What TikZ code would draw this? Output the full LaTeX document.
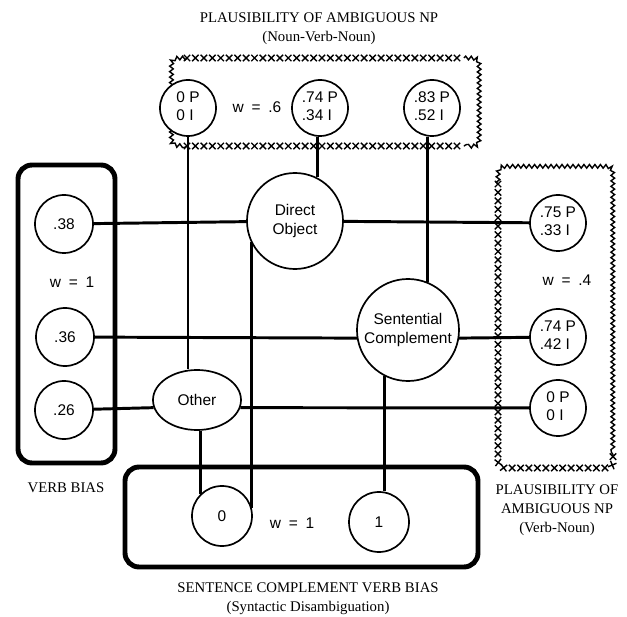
\documentclass[tikz,border=0pt]{standalone}
\usepackage{fontspec}
\setmainfont{Liberation Serif}
\setsansfont{Liberation Sans}
\usetikzlibrary{shapes.geometric,decorations.pathmorphing,decorations.markings}
\tikzset{
    unit/.style={circle,draw,fill=white,line width=1.2pt,inner sep=0pt,
        minimum size=#1,font=\sffamily\fontsize{11}{13}\selectfont},
    unit/.default=1.4cm,
    link/.style={line width=2.1pt},
    heavybox/.style={line width=3.5pt,rounded corners=10pt},
    xrow/.style={decorate,decoration={markings,
        mark=between positions 0 and 1 step 6pt with
        {\draw[line width=1pt] (-2.3pt,-2.3pt) -- (2.3pt,2.3pt) (-2.3pt,2.3pt) -- (2.3pt,-2.3pt);}}},
    wavy/.style={line width=1pt,decorate,
        decoration={snake,amplitude=1.3pt,segment length=3.9pt}},
    wlabel/.style={font=\sffamily\fontsize{11}{13}\selectfont},
    caption/.style={align=center,font=\fontsize{10.5}{13.5}\selectfont}
}
\newcommand\plaus[2]{\begin{tabular}{@{}r@{\ }l@{}}#1&P\\#2&I\end{tabular}}

\begin{document}
\begin{tikzpicture}[x=0.025cm,y=-0.025cm]
    \useasboundingbox (0,0) rectangle (627,617);
    % group borders
    \draw[heavybox] (18,165) rectangle (115,463);
    \draw[heavybox] (125,467) rectangle (478,567);
    \draw[xrow] (187,58) -- (464,58);
    \draw[xrow] (187,146) -- (464,146);
    \draw[wavy] (187,58) .. controls (173,58) .. (173,72) -- (173,132)
        .. controls (173,146) .. (187,146);
    \draw[wavy] (464,58) .. controls (478,58) .. (478,72) -- (478,132)
        .. controls (478,146) .. (464,146);
    \draw[wavy] (498,184) -- (498,182) .. controls (498,168) .. (512,168) -- (599,168)
        .. controls (613,168) .. (613,182) -- (613,456);
    \draw[xrow] (498,184) -- (498,454) .. controls (498,468) .. (512,468) -- (599,468)
        .. controls (613,468) .. (613,456);

    % units
    \node[unit] (npA) at (188,108) {\plaus{0}{0}};
    \node[unit] (npB) at (320,108) {\plaus{.74}{.34}};
    \node[unit] (npC) at (432,108) {\plaus{.83}{.52}};
    \node[unit=1.45cm] (vb38) at (64,224) {.38};
    \node[unit=1.45cm] (vb36) at (65,337) {.36};
    \node[unit=1.45cm] (vb26) at (64,410) {.26};
    \node[unit] (vn75) at (558,223) {\plaus{.75}{.33}};
    \node[unit] (vn74) at (558,337) {\plaus{.74}{.42}};
    \node[unit] (vn0)  at (558,408) {\plaus{0}{0}};
    \node[unit=1.5cm] (sc0) at (222,516) {0};
    \node[unit=1.5cm] (sc1) at (379,522) {1};
    \node[unit=2.4cm,align=center] (DO) at (295,221) {Direct\\Object};
    \node[unit=2.55cm,align=center] (SC) at (408,330) {Sentential\\Complement};
    \node[unit,ellipse,minimum width=2.2cm,minimum height=1.5cm] (other) at (197,400) {Other};

    % connections
    \draw[link] (vb38) -- (DO);
    \draw[link] (DO) -- (vn75);
    \draw[link] (vb36) -- (SC.189);
    \draw[link] (SC.-9) -- (vn74);
    \draw[link] (vb26) -- (other.190);
    \draw[link] (other.-10) -- (vn0);
    \draw[link] (npA) -- (npA |- other.north);
    \draw[link] (DO.63 |- npB.south) -- (DO.63);
    \draw[link] (SC.68 |- npC.south) -- (SC.68);
    \draw[link] (DO.206) -- (DO.206 |- sc0.15);
    \draw[link] (sc0.134 |- other.south) -- (sc0.134);
    \draw[link] (SC.243) -- (SC.243 |- sc1.north);

    % weights
    \node[wlabel] (wnvn) at (257,107) {w\enspace=\enspace.6};
    \node[wlabel] (wvb)  at (72,282)  {w\enspace=\enspace1};
    \node[wlabel] (wvn)  at (567,280) {w\enspace=\enspace.4};
    \node[wlabel] (wsc)  at (292,523) {w\enspace=\enspace1};

    % captions
    \node[caption] (capnvn) at (319,29) {PLAUSIBILITY OF AMBIGUOUS NP\\(Noun-Verb-Noun)};
    \node[caption] (capvb)  at (66,488) {VERB BIAS};
    \node[caption] (capvn)  at (557,510) {PLAUSIBILITY OF\\AMBIGUOUS NP\\(Verb-Noun)};
    \node[caption] (capsc)  at (308,599) {SENTENCE COMPLEMENT VERB BIAS\\(Syntactic Disambiguation)};
\end{tikzpicture}
\end{document}
